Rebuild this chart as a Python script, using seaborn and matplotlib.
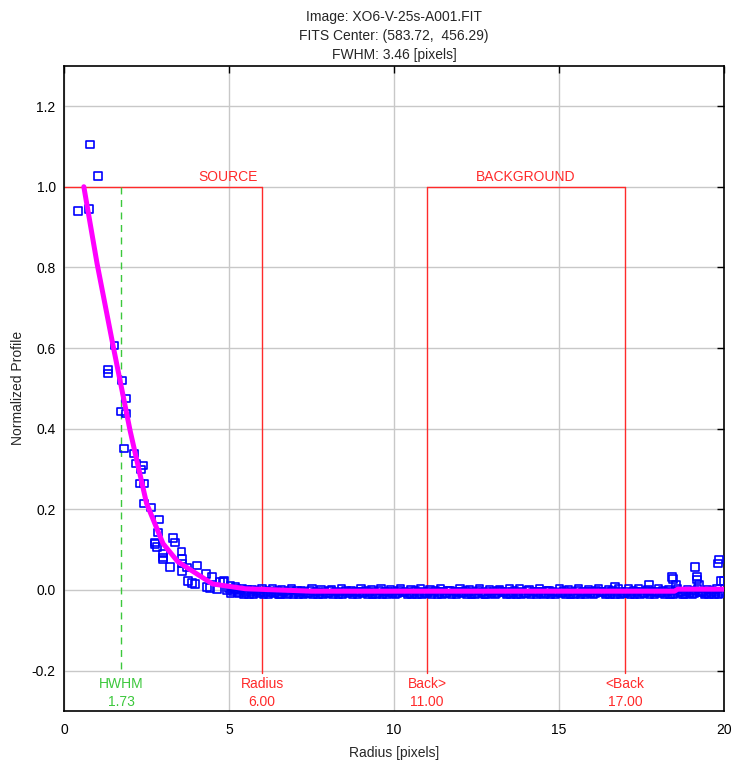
import numpy as np
import pandas as pd
import matplotlib
matplotlib.use("Agg")
import matplotlib.pyplot as plt
import seaborn as sns

# ---------------- data ----------------
core_r = [0.42, 0.76, 0.79, 1.03, 1.52, 1.33, 1.33, 1.76, 1.88, 1.73, 1.88, 1.82,
          2.12, 2.18, 2.39, 2.33, 2.30, 2.42, 2.42, 2.64, 2.88, 2.85, 2.76, 2.76,
          2.82, 3.30, 3.36, 3.55, 3.00, 3.00, 3.00, 3.21, 3.58, 3.58, 3.58, 3.73,
          4.03, 3.76, 3.88, 3.97, 4.30, 4.48, 4.33, 4.42, 4.73, 4.82, 4.64, 4.94,
          4.85, 5.05, 5.20]
core_v = [0.940, 0.945, 1.105, 1.027, 0.607, 0.547, 0.537, 0.520, 0.475, 0.443, 0.438, 0.351,
          0.338, 0.313, 0.308, 0.299, 0.264, 0.264, 0.214, 0.204, 0.174, 0.142, 0.117, 0.114,
          0.107, 0.129, 0.117, 0.095, 0.090, 0.080, 0.075, 0.057, 0.077, 0.065, 0.047, 0.055,
          0.060, 0.022, 0.017, 0.015, 0.040, 0.032, 0.007, 0.005, 0.020, 0.020, 0.002, -0.002,
          0.022, 0.010, 0.008]

band_r = [5.00, 5.10, 5.21, 5.30, 5.39, 5.50, 5.61, 5.70, 5.80, 5.91,
          6.00, 6.09, 6.20, 6.31, 6.40, 6.50, 6.59, 6.70, 6.81, 6.90,
          7.00, 7.11, 7.20, 7.29, 7.40, 7.51, 7.60, 7.70, 7.79, 7.90,
          8.01, 8.10, 8.20, 8.31, 8.40, 8.49, 8.60, 8.71, 8.80, 8.90,
          9.00, 9.09, 9.20, 9.31, 9.40, 9.50, 9.61, 9.70, 9.79, 9.90,
          10.01, 10.10, 10.20, 10.29, 10.40, 10.51, 10.60, 10.70, 10.81, 10.90,
          11.00, 11.09, 11.20, 11.31, 11.40, 11.50, 11.59, 11.70, 11.81, 11.90,
          12.00, 12.11, 12.20, 12.29, 12.40, 12.51, 12.60, 12.70, 12.79, 12.90,
          13.01, 13.10, 13.20, 13.31, 13.40, 13.49, 13.60, 13.71, 13.80, 13.90,
          14.00, 14.09, 14.20, 14.31, 14.40, 14.50, 14.61, 14.70, 14.79, 14.90,
          15.01, 15.10, 15.20, 15.29, 15.40, 15.51, 15.60, 15.70, 15.81, 15.90,
          16.00, 16.09, 16.20, 16.31, 16.40, 16.50, 16.59, 16.70, 16.81, 16.90,
          17.00, 17.11, 17.20, 17.29, 17.40, 17.51, 17.60, 17.70, 17.79, 17.90,
          18.01, 18.10, 18.20, 18.31, 18.40, 18.49, 18.60, 18.71, 18.80, 18.90,
          19.00, 19.09, 19.20, 19.31, 19.40, 19.50, 19.61, 19.70, 19.79, 19.90]
band_v = [0.004, -0.003, 0.002, -0.008, 0.003, -0.006, -0.011, 0.001, -0.004, -0.009,
          0.003, -0.007, -0.012, 0.002, -0.005, -0.010, 0.000, -0.003, -0.008, 0.003,
          -0.006, -0.011, -0.001, -0.004, -0.009, 0.002, -0.007, -0.012, 0.001, -0.003,
          -0.008, 0.000, -0.006, -0.011, 0.002, -0.004, -0.009, -0.001, -0.007, -0.012,
          0.003, -0.005, -0.010, 0.001, -0.003, -0.008, 0.002, -0.006, -0.011, 0.000,
          -0.004, -0.009, 0.002, -0.007, -0.012, 0.001, -0.005, -0.010, 0.003, -0.003,
          -0.008, 0.000, -0.006, -0.011, 0.002, -0.004, -0.009, -0.001, -0.007, -0.012,
          0.002, -0.005, -0.010, 0.001, -0.003, -0.008, 0.003, -0.006, -0.011, 0.000,
          -0.004, -0.009, 0.001, -0.007, -0.012, 0.002, -0.005, -0.010, 0.003, -0.003,
          -0.008, 0.000, -0.006, -0.011, 0.002, -0.004, -0.009, -0.001, -0.007, -0.012,
          0.003, -0.005, -0.010, 0.001, -0.003, -0.008, 0.002, -0.006, -0.011, 0.000,
          -0.004, -0.009, 0.003, -0.007, -0.012, 0.001, -0.005, -0.010, 0.002, -0.003,
          -0.008, 0.004, -0.006, -0.011, 0.002, -0.004, -0.009, 0.000, -0.007, -0.012,
          0.003, -0.005, -0.010, 0.001, -0.003, -0.008, 0.002, -0.006, -0.011, 0.000,
          -0.004, -0.009, 0.003, -0.007, -0.012, 0.001, -0.005, -0.010, 0.002, -0.003]

band2_r = [5.05, 5.16, 5.25, 5.34, 5.45, 5.56, 5.65, 5.75, 5.86, 5.95,
           6.05, 6.15, 6.25, 6.36, 6.45, 6.54, 6.65, 6.76, 6.85, 6.95,
           7.06, 7.15, 7.25, 7.35, 7.46, 7.55, 7.65, 7.74, 7.85, 7.96,
           8.05, 8.15, 8.26, 8.35, 8.44, 8.55, 8.66, 8.75, 8.85, 8.95,
           9.04, 9.15, 9.26, 9.35, 9.45, 9.56, 9.65, 9.75, 9.84, 9.95,
           10.05, 10.15, 10.25, 10.35, 10.46, 10.55, 10.65, 10.76, 10.85, 10.95,
           11.05, 11.14, 11.25, 11.36, 11.45, 11.55, 11.64, 11.75, 11.86, 11.95,
           12.05, 12.16, 12.25, 12.34, 12.45, 12.56, 12.65, 12.75, 12.84, 12.95,
           13.06, 13.15, 13.25, 13.36, 13.45, 13.54, 13.65, 13.76, 13.85, 13.95,
           14.05, 14.14, 14.25, 14.36, 14.45, 14.55, 14.66, 14.75, 14.84, 14.95,
           15.06, 15.15, 15.25, 15.34, 15.45, 15.56, 15.65, 15.75, 15.86, 15.95,
           16.05, 16.14, 16.25, 16.36, 16.45, 16.55, 16.64, 16.75, 16.86, 16.95,
           17.05, 17.16, 17.25, 17.34, 17.45, 17.56, 17.65, 17.75, 17.84, 17.95,
           18.06, 18.15, 18.25, 18.36, 18.45, 18.54, 18.65, 18.76, 18.85, 18.95,
           19.05, 19.14, 19.25, 19.36, 19.45, 19.55, 19.66, 19.75, 19.84, 19.95]
band2_v = [-0.009, 0.001, -0.006, -0.002, -0.010, 0.000, -0.005, -0.012, -0.002, -0.007,
           -0.010, -0.001, -0.005, -0.009, -0.002, -0.012, -0.006, -0.011, -0.001, -0.010,
           -0.002, -0.007, -0.012, -0.009, -0.001, -0.011, -0.004, -0.006, -0.010, -0.008,
           -0.002, -0.012, -0.003, -0.007, -0.010, -0.001, -0.006, -0.012, -0.003, -0.005,
           -0.009, -0.002, -0.006, -0.011, -0.010, -0.001, -0.012, -0.003, -0.005, -0.009,
           -0.011, -0.002, -0.006, -0.003, -0.009, -0.010, -0.001, -0.006, -0.011, -0.008,
           -0.003, -0.010, -0.002, -0.005, -0.012, -0.009, -0.002, -0.011, -0.004, -0.005,
           -0.009, -0.001, -0.006, -0.012, -0.010, -0.002, -0.006, -0.012, -0.003, -0.009,
           -0.011, -0.002, -0.005, -0.003, -0.009, -0.010, -0.001, -0.006, -0.011, -0.008,
           -0.002, -0.012, -0.003, -0.005, -0.009, -0.010, -0.002, -0.011, -0.003, -0.006,
           -0.009, -0.001, -0.006, -0.012, -0.010, -0.002, -0.012, -0.003, -0.005, -0.009,
           -0.011, -0.002, -0.005, -0.003, -0.009, -0.010, -0.001, -0.006, -0.011, -0.008,
           -0.003, -0.010, -0.002, -0.005, -0.012, -0.009, -0.002, -0.011, -0.004, -0.005,
           -0.009, -0.001, -0.006, -0.012, -0.010, -0.002, -0.006, -0.012, -0.003, -0.009,
           -0.011, -0.002, -0.005, -0.003, -0.009, -0.010, -0.001, -0.006, -0.011, -0.008]

tail_r = [16.70, 17.73, 18.42, 18.45, 18.55, 19.12, 19.18, 19.18, 19.24, 19.85, 19.82, 19.90, 19.98]
tail_v = [0.007, 0.014, 0.032, 0.027, 0.013, 0.057, 0.033, 0.026, 0.012, 0.075, 0.065, 0.022, 0.022]

fit_r = [0.60, 1.00, 1.50, 2.00, 2.50, 3.00, 3.45, 4.50, 5.50, 7.50, 18.50, 18.60, 20.00]
fit_v = [1.000, 0.810, 0.600, 0.396, 0.215, 0.115, 0.070, 0.015, 0.003, -0.003, -0.003, 0.002, 0.002]

hwhm = 1.73
src_radius = 6.00
back_in = 11.00
back_out = 17.00
title_lines = ["Image: XO6-V-25s-A001.FIT", "FITS Center: (583.72,  456.29)", "FWHM: 3.46 [pixels]"]
x_ticks = [0, 5, 10, 15, 20]
y_ticks = [-0.2, 0.0, 0.2, 0.4, 0.6, 0.8, 1.0, 1.2]

# ---------------- plot ----------------
sns.set_style("white")
plt.rcParams['font.family'] = ['Liberation Sans', 'DejaVu Sans']
plt.rcParams['axes.unicode_minus'] = False

pts = pd.DataFrame({"r": core_r + band_r + band2_r + tail_r,
                    "v": core_v + band_v + band2_v + tail_v})
fit = pd.DataFrame({"r": fit_r, "v": fit_v})

fig = plt.figure(figsize=(7.36, 7.62), dpi=100)
ax = fig.add_axes([0.087, 0.067, 0.8967, 0.8467])

ax.set_xlim(0, 20)
ax.set_ylim(-0.3, 1.3)
ax.set_xticks(x_ticks)
ax.set_yticks(y_ticks)
ax.set_yticklabels([f"{t:.1f}" for t in y_ticks])
ax.grid(True, color="#c8c8c8", linewidth=1.0, zorder=0)
ax.set_axisbelow(True)

sns.scatterplot(data=pts, x="r", y="v", ax=ax, marker="s", s=28,
                facecolor="none", edgecolor="#0000ff", linewidth=1.2, zorder=3)
sns.lineplot(data=fit, x="r", y="v", ax=ax, color="#ff00ff", linewidth=3.6,
             zorder=4, estimator=None, sort=False)

red = "#ff2a2a"
green = "#3cc83c"
ybot = -0.205
ax.plot([0, src_radius], [1.0, 1.0], color=red, lw=1.0, zorder=2)
ax.plot([src_radius, src_radius], [1.0, ybot], color=red, lw=1.0, zorder=2)
ax.plot([back_in, back_out], [1.0, 1.0], color=red, lw=1.0, zorder=2)
ax.plot([back_in, back_in], [1.0, ybot], color=red, lw=1.0, zorder=2)
ax.plot([back_out, back_out], [1.0, ybot], color=red, lw=1.0, zorder=2)
ax.plot([hwhm, hwhm], [1.0, ybot], color=green, lw=1.0, ls=(0, (5, 4)), zorder=2)

ax.text(4.97, 1.024, "SOURCE", color=red, ha="center", va="center", fontsize=10)
ax.text((back_in + back_out) / 2, 1.024, "BACKGROUND", color=red, ha="center", va="center", fontsize=10)
for xv, lab, col in [(hwhm, "HWHM", green), (src_radius, "Radius", red),
                     (back_in, "Back>", red), (back_out, "<Back", red)]:
    ax.text(xv, -0.234, lab, color=col, ha="center", va="center", fontsize=10)
    ax.text(xv, -0.279, f"{xv:.2f}", color=col, ha="center", va="center", fontsize=10)

ax.tick_params(direction="in", length=5, width=1, top=True, right=True,
               labelsize=10, pad=6, colors="black")
ax.tick_params(axis="x", pad=9)
for s in ax.spines.values():
    s.set_color("black")
    s.set_linewidth(1.2)

ax.set_xlabel("Radius [pixels]", fontsize=10, labelpad=6)
ax.set_ylabel("Normalized Profile", fontsize=10, labelpad=5)
ax.set_title("\n".join(title_lines), fontsize=10, linespacing=1.45, pad=5)

fig.savefig("out.png", dpi=100)
